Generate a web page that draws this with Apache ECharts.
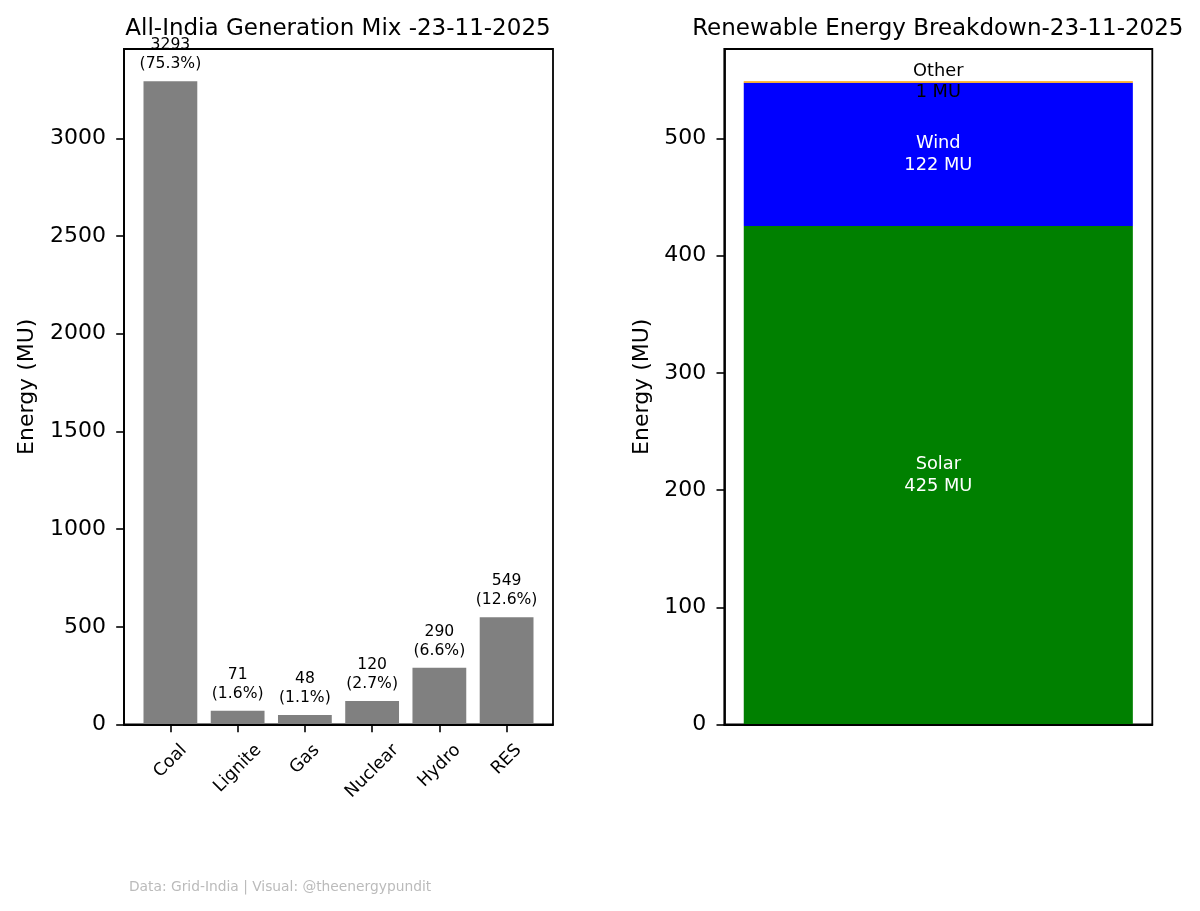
<!DOCTYPE html>
<html>
<head>
<meta charset="utf-8">
<script src="https://cdn.jsdelivr.net/npm/echarts@6/dist/echarts.min.js"></script>
<style>html,body{margin:0;padding:0;background:#fff;}#c{width:1200px;height:911px;}</style>
</head>
<body>
<div id="c"></div>
<script>
const categories = ['Coal', 'Lignite', 'Gas', 'Nuclear', 'Hydro', 'RES'];
const generation = [3293, 71, 48, 120, 290, 549];
const genTicks = [0, 500, 1000, 1500, 2000, 2500, 3000];
const resCategories = ['Solar', 'Wind', 'Other'];
const resValues = [425.4, 122.3, 1.3];
const resColors = ['#008000', '#0000ff', '#ffa500'];
const resLabelColors = ['#ffffff', '#ffffff', '#000000'];
const resTicks = [0, 100, 200, 300, 400, 500];
const leftTitle = 'All-India Generation Mix -23-11-2025';
const rightTitle = 'Renewable Energy Breakdown-23-11-2025';
const footer = 'Data: Grid-India | Visual: @theenergypundit';

const FONT = 'DejaVu Sans';
const total = generation.reduce((a, b) => a + b, 0);
const resTotal = resValues.reduce((a, b) => a + b, 0);

// layout (px)
const L = {left: 124, right: 553, top: 49, bottom: 724.5};
const R = {left: 724.3, right: 1152.3, top: 49, bottom: 724.5};
const W = 1200, H = 911;

// matplotlib-like x limits for the bar chart
const xLo = -0.4 - 0.05 * (categories.length - 1 + 0.8);
const xHi = categories.length - 1 + 0.4 + 0.05 * (categories.length - 1 + 0.8);
const unitPx = (L.right - L.left) / (xHi - xLo);

// measure x-label widths to emulate matplotlib's top-anchored rotated labels
const XLF = 17.5;
const cv = document.createElement('canvas').getContext('2d');
cv.font = XLF + 'px "' + FONT + '"';
const rich = {};
categories.forEach((c, i) => {
  const w = cv.measureText(c).width;
  const p = 0.5 * w;
  rich['l' + i] = {fontFamily: FONT, fontSize: XLF, color: '#000', padding: [p, p, 0, 0]};
});

const chart = echarts.init(document.getElementById('c'), null, {renderer: 'canvas'});
const axisLineStyle = {color: '#000', width: 1.8};
const tickStyle = {show: true, length: 7.8, lineStyle: {color: '#000', width: 1.6}};
const plain = v => String(v);

chart.setOption({
  animation: false,
  backgroundColor: '#fff',
  title: [
    {text: leftTitle, left: (L.left + L.right) / 2 - 5.5, top: 13, textAlign: 'center',
     textStyle: {fontFamily: FONT, fontSize: 23, fontWeight: 'normal', color: '#000'}},
    {text: rightTitle, left: (R.left + R.right) / 2 - 5.5, top: 13, textAlign: 'center',
     textStyle: {fontFamily: FONT, fontSize: 23, fontWeight: 'normal', color: '#000'}},
    {text: footer, left: 124, top: 875,
     textStyle: {fontFamily: FONT, fontSize: 13.8, fontWeight: 'normal', color: '#bbbbbb'}}
  ],
  grid: [
    {left: L.left, right: W - L.right, top: L.top, bottom: H - L.bottom, show: true,
     borderColor: '#000', borderWidth: 1.8, backgroundColor: 'transparent', outerBoundsMode: 'none'},
    {left: R.left, right: W - R.right, top: R.top, bottom: H - R.bottom, show: true,
     borderColor: '#000', borderWidth: 1.8, backgroundColor: 'transparent', outerBoundsMode: 'none'}
  ],
  xAxis: [
    {type: 'value', gridIndex: 0, min: xLo, max: xHi, z: 5,
     splitLine: {show: false},
     axisLine: {show: true, onZero: false, lineStyle: axisLineStyle},
     axisTick: Object.assign({customValues: categories.map((c, i) => i)}, tickStyle),
     axisLabel: {customValues: categories.map((c, i) => i), rotate: 45, align: 'center', verticalAlign: 'middle',
       margin: 23, fontFamily: FONT, fontSize: XLF, color: '#000', rich: rich,
       formatter: v => { const i = Math.round(v); return '{l' + i + '|' + categories[i] + '}'; }}},
    {type: 'category', gridIndex: 1, data: [''], boundaryGap: true, z: 5,
     axisLine: {show: true, lineStyle: axisLineStyle},
     axisTick: {show: false}, axisLabel: {show: false}, splitLine: {show: false}}
  ],
  yAxis: [
    {type: 'value', gridIndex: 0, min: 0, max: Math.max(...generation) * 1.05, z: 5,
     splitLine: {show: false},
     axisLine: {show: true, onZero: false, lineStyle: axisLineStyle},
     axisTick: Object.assign({customValues: genTicks}, tickStyle),
     axisLabel: {customValues: genTicks, formatter: plain, margin: 18, fontFamily: FONT, fontSize: 22, color: '#000'},
     name: 'Energy (MU)', nameLocation: 'middle', nameRotate: 90, nameGap: 97,
     nameTextStyle: {fontFamily: FONT, fontSize: 22, color: '#000', verticalAlign: 'middle'}},
    {type: 'value', gridIndex: 1, min: 0, max: resTotal * 1.05, z: 5,
     splitLine: {show: false},
     axisLine: {show: true, onZero: false, lineStyle: axisLineStyle},
     axisTick: Object.assign({customValues: resTicks}, tickStyle),
     axisLabel: {customValues: resTicks, formatter: plain, margin: 18, fontFamily: FONT, fontSize: 22, color: '#000'},
     name: 'Energy (MU)', nameLocation: 'middle', nameRotate: 90, nameGap: 82,
     nameTextStyle: {fontFamily: FONT, fontSize: 22, color: '#000', verticalAlign: 'middle'}}
  ],
  series: [
    {type: 'bar', xAxisIndex: 0, yAxisIndex: 0, barWidth: 0.8 * unitPx,
     itemStyle: {color: '#808080'},
     data: generation.map((v, i) => [i, v]),
     label: {show: true, position: 'top', distance: 7.5, fontFamily: FONT, fontSize: 15.6, lineHeight: 19,
       color: '#000', align: 'center',
       formatter: p => generation[p.dataIndex] + '\n(' + (generation[p.dataIndex] / total * 100).toFixed(1) + '%)'}}
  ].concat(resCategories.map((name, i) => ({
    type: 'bar', name: name, xAxisIndex: 1, yAxisIndex: 1, stack: 'res', barWidth: (0.8 / 0.88 * 100) + '%',
    itemStyle: {color: resColors[i]},
    data: [resValues[i]],
    label: {show: true, position: 'inside', fontFamily: FONT, fontSize: 17.8, lineHeight: 21.5,
      color: resLabelColors[i], align: 'center',
      formatter: () => name + '\n' + Math.round(resValues[i]) + ' MU'}
  })))
});
</script>
</body>
</html>
